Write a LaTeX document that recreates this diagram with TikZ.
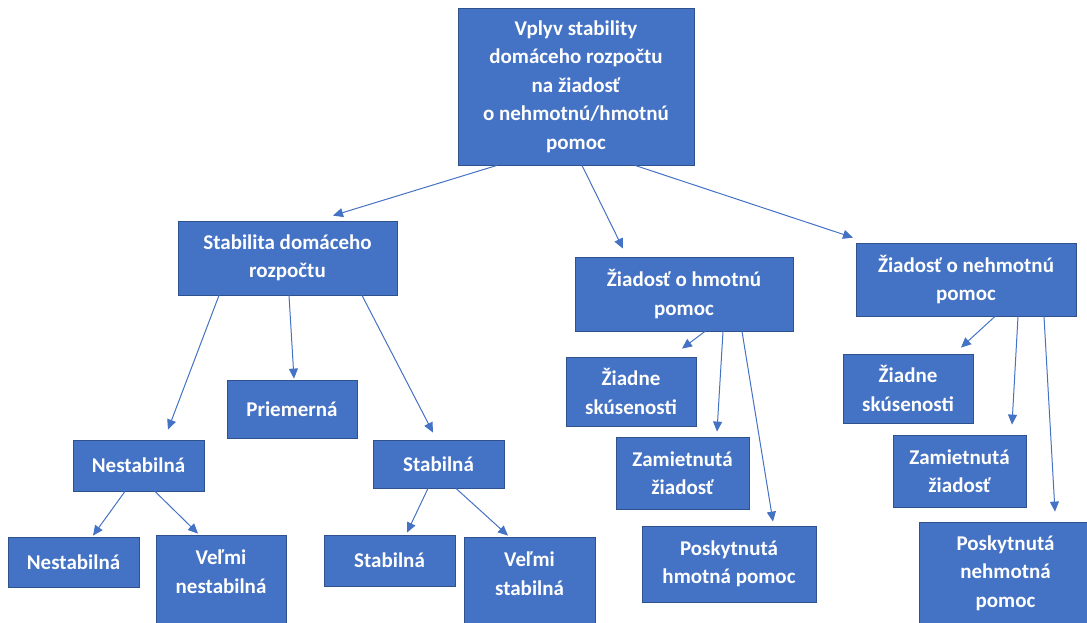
\documentclass[tikz,border=0pt]{standalone}
\usepackage{fontspec}
\setmainfont{Carlito}
\usepackage{tikz}
\usetikzlibrary{arrows.meta}
\usetikzlibrary{positioning}
\definecolor{mblue}{HTML}{4472C4}
\definecolor{dblue}{HTML}{2F528F}
\tikzset{
  box/.style={draw=dblue, line width=0.8pt, fill=mblue, text=white, inner sep=0pt,
    align=center, font=\fontsize{21}{28.5}\selectfont\bfseries},
  arr/.style={draw=mblue, line width=1pt, -{Triangle[length=10pt,width=9pt]}}
}

\begin{document}
\begin{tikzpicture}[x=1pt, y=-1pt]
    \useasboundingbox (0, 0) rectangle (1087, 623);

    \node [box, minimum width=236, minimum height=157] (top) at (576, 86.5)
      {Vplyv stability\\domáceho rozpočtu\\na žiadosť\\o nehmotnú/hmotnú\\pomoc};

    \node [box, minimum width=219, minimum height=74] (stab) at (287.5, 258) {Stabilita domáceho\\rozpočtu};
    \node [box, minimum width=130, minimum height=58] (prie) at (292, 409) {Priemerná};
    \node [box, minimum width=131, minimum height=51] (nest) at (138.5, 465.5) {Nestabilná};
    \node [box, minimum width=131, minimum height=48] (stbl) at (438.5, 464) {Stabilná};
    \node [box, minimum width=131, minimum height=50] (nestL) at (73.5, 562) {Nestabilná};
    \node [box, minimum width=130, minimum height=102] (vnest) at (221, 586) {Veľmi\\nestabilná\\\phantom{x}};
    \node [box, minimum width=131, minimum height=51] (stblL) at (389.5, 560.5) {Stabilná};
    \node [box, minimum width=131, minimum height=102] (vstbl) at (529.5, 588) {Veľmi\\stabilná\\\phantom{x}};

    \node [box, minimum width=218, minimum height=74] (hmot) at (684, 294) {Žiadosť o hmotnú\\pomoc};
    \node [box, minimum width=130, minimum height=69] (hzia) at (631, 391.5) {Žiadne\\skúsenosti};
    \node [box, minimum width=133, minimum height=72] (hzam) at (682.5, 473) {Zamietnutá\\žiadosť};
    \node [box, minimum width=174, minimum height=76] (hpos) at (729, 564) {Poskytnutá\\hmotná pomoc};

    \node [box, minimum width=220, minimum height=73] (nehm) at (966, 279.5) {Žiadosť o nehmotnú\\pomoc};
    \node [box, minimum width=130, minimum height=69] (nzia) at (908, 388.5) {Žiadne\\skúsenosti};
    \node [box, minimum width=133, minimum height=72] (nzam) at (959.5, 471) {Zamietnutá\\žiadosť};
    \node [box, minimum width=173, minimum height=102] (npos) at (1005.5, 573) {Poskytnutá\\nehmotná\\pomoc};

    \draw [arr] ([xshift=-79pt]top.south) -- ([xshift=45.5pt, yshift=5pt]stab.north);
    \draw [arr] ([xshift=6pt]top.south) -- ([xshift=-61pt, yshift=8pt]hmot.north);
    \draw [arr] ([xshift=59pt]top.south) -- ([xshift=-113pt, yshift=5pt]nehm.north);

    \draw [arr] ([xshift=-68.5pt]stab.south) -- ([xshift=29.5pt, yshift=10pt]nest.north);
    \draw [arr] ([xshift=1.5pt]stab.south) -- ([xshift=2pt, yshift=1pt]prie.north);
    \draw [arr] ([xshift=74.5pt]stab.south) -- ([xshift=-5.5pt, yshift=7pt]stbl.north);

    \draw [arr] ([xshift=-13.5pt]nest.south) -- ([xshift=19.5pt, yshift=1pt]nestL.north);
    \draw [arr] ([xshift=16.5pt]nest.south) -- ([xshift=-23pt, yshift=1pt]vnest.north);
    \draw [arr] ([xshift=-10.5pt]stbl.south) -- ([xshift=17.5pt, yshift=2pt]stblL.north);
    \draw [arr] ([xshift=17.5pt]stbl.south) -- ([xshift=-21.5pt, yshift=1pt]vstbl.north);

    \draw [arr] ([xshift=21pt]hmot.south) -- ([xshift=51pt, yshift=8pt]hzia.north);
    \draw [arr] ([xshift=39pt]hmot.south) -- ([xshift=34.5pt, yshift=5pt]hzam.north);
    \draw [arr] ([xshift=58pt]hmot.south) -- ([xshift=44pt, yshift=4pt]hpos.north);

    \draw [arr] ([xshift=29pt]nehm.south) -- ([xshift=53pt, yshift=6pt]nzia.north);
    \draw [arr] ([xshift=52pt]nehm.south) -- ([xshift=52.5pt, yshift=10pt]nzam.north);
    \draw [arr] ([xshift=78pt]nehm.south) -- ([xshift=49.5pt, yshift=10pt]npos.north);
\end{tikzpicture}
\end{document}
